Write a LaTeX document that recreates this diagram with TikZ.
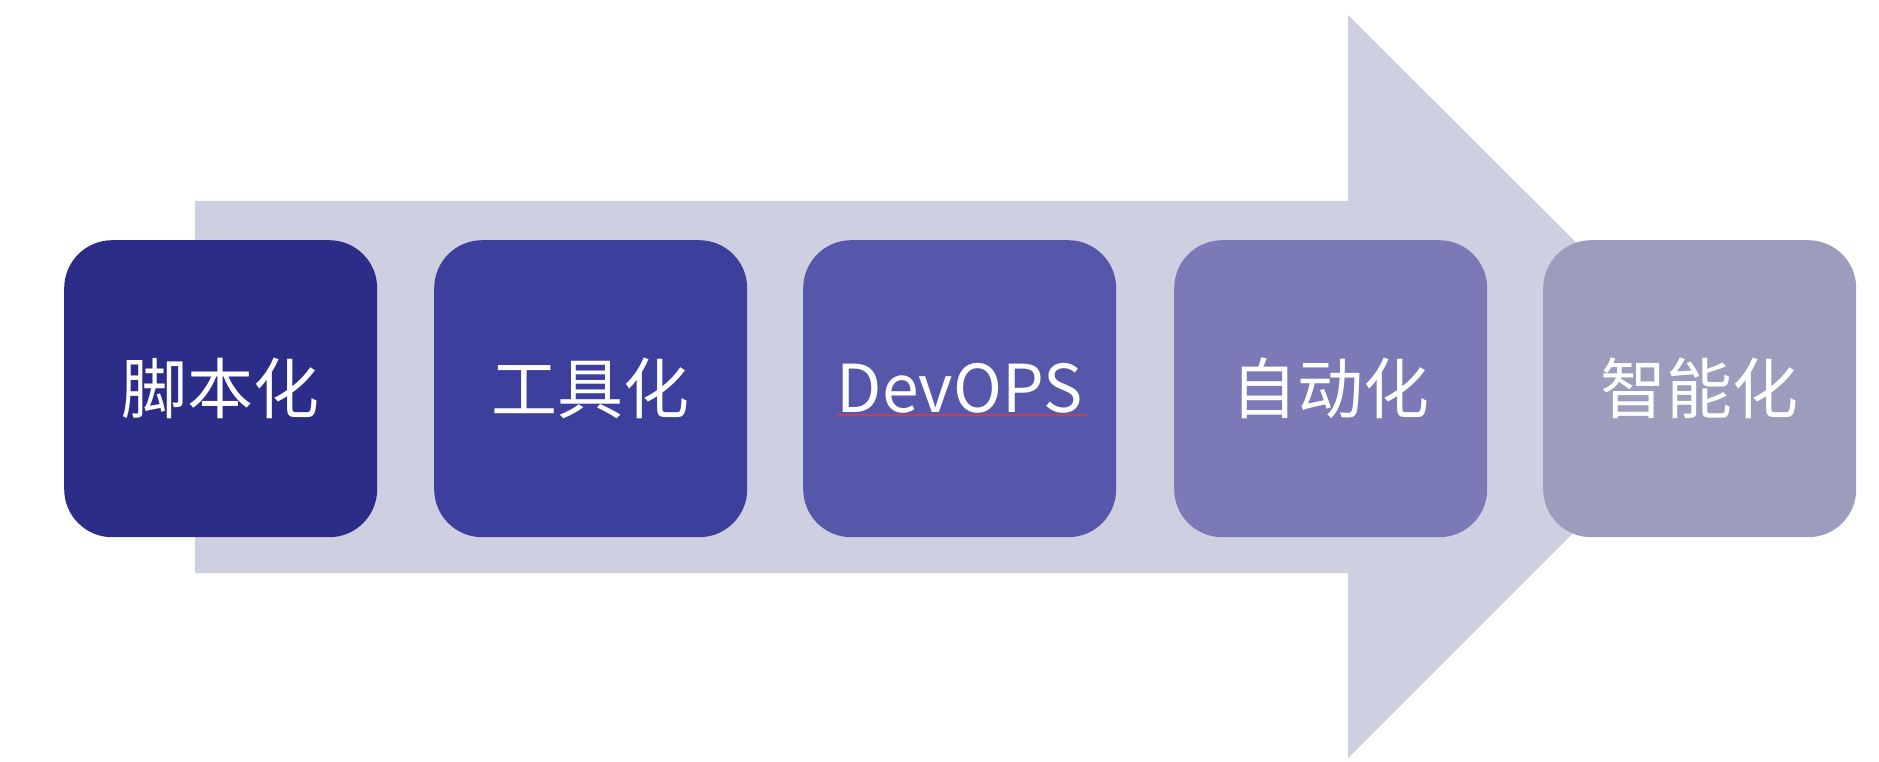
\documentclass[tikz,border=0pt]{standalone}
\usepackage{fontspec}
\newfontfamily\cjk{Noto Sans CJK SC}
\definecolor{arrowc}{HTML}{CFCFE2}
\definecolor{cA}{HTML}{2B2D88}
\definecolor{cB}{HTML}{3D3F9D}
\definecolor{cC}{HTML}{5657AB}
\definecolor{cD}{HTML}{7B79B6}
\definecolor{cE}{HTML}{9C9CBC}
\definecolor{wavyred}{HTML}{C0405A}
\begin{document}
\begin{tikzpicture}[x=1pt,y=-1pt,
  stagebox/.style={rounded corners=48pt,minimum width=313pt,minimum height=297pt,inner sep=0pt,
    text=white,font=\cjk\fontsize{66}{72}\selectfont,anchor=north west}]
\useasboundingbox[fill=white] (0,0) rectangle (1879,762);
\fill[arrowc] (195,201) -- (1348,201) -- (1348,15) -- (1720,386) -- (1348,758) -- (1348,573) -- (195,573) -- cycle;
\node[stagebox,fill=cA] (s1) at (64,240) {脚本化};
\node[stagebox,fill=cB] (s2) at (434,240) {工具化};
\node[stagebox,fill=cC] (s3) at (803,240) {DevOPS};
\node[stagebox,fill=cD] (s4) at (1174,240) {自动化};
\node[stagebox,fill=cE] (s5) at (1543,240) {智能化};
\coordinate (u1) at (837,415);
\coordinate (u2) at (1087,415);
\draw[wavyred,line width=2pt] (u1) -- (u2);
\end{tikzpicture}
\end{document}
